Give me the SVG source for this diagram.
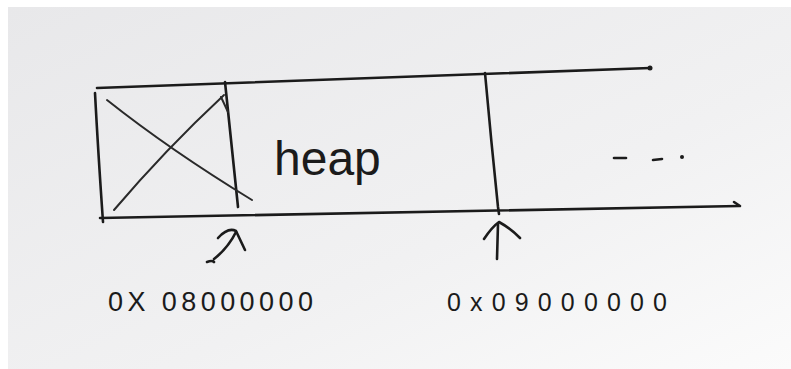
<svg xmlns="http://www.w3.org/2000/svg" width="791" height="369" viewBox="0 0 791 369">
<defs>
<linearGradient id="paper" x1="0" y1="0" x2="1" y2="1">
<stop offset="0" stop-color="#e8e8ea"/>
<stop offset="0.6" stop-color="#f1f1f2"/>
<stop offset="1" stop-color="#fbfbfb"/>
</linearGradient>
<style>
.ink{fill:none;stroke:#1b1b1b;stroke-width:2.6;stroke-linecap:round;stroke-linejoin:round}
.thin{fill:none;stroke:#2a2a2a;stroke-width:2;stroke-linecap:round;stroke-linejoin:round}
.hand{font-family:"Liberation Sans","DejaVu Sans",sans-serif;fill:#1b1b1b}
</style>
</defs>
<rect x="0" y="0" width="791" height="369" fill="#ffffff"/>
<rect x="8" y="7" width="783" height="362" fill="url(#paper)"/>

<g id="memory-strip">
<path class="ink" d="M97,88 Q380,79 650,68"/>
<circle cx="650" cy="68" r="2.5" fill="#1b1b1b"/>
<path class="ink" d="M100,218 Q420,211 739,206"/>
<path class="ink" d="M734,202 L740,206"/>
</g>

<g id="reserved-block">
<path class="ink" d="M95,93 Q98,150 103,222"/>
<path class="ink" d="M225,82 Q231,140 238,207"/>
<path class="thin" d="M107,100 Q170,150 252,200"/>
<path class="thin" d="M114,210 Q165,150 224,95"/>
<path class="thin" d="M221,97 L228,112"/>
</g>

<g id="heap-block">
<text class="hand" x="274" y="175" font-size="48">heap</text>
<path class="ink" d="M485,73 Q491,140 498,207 L499,214"/>
</g>

<g id="rest-block">
<path class="ink" d="M614,158 L626,158"/>
<path class="ink" d="M653,160 L662,159"/>
<circle cx="682" cy="157" r="2" fill="#1b1b1b"/>
</g>

<g id="connectors">
<path class="ink" d="M207,262 Q212,260 214,262 M214,259 Q228,248 236,232"/>
<path class="ink" d="M218,238 Q228,227 236,231 L245,250"/>
<path class="ink" d="M497,259 L498,224"/>
<path class="ink" d="M484,239 Q492,227 499,222 Q510,228 520,238"/>
</g>

<g id="addr-1">
<text class="hand" x="108" y="311" font-size="27" textLength="205" lengthAdjust="spacing">0X 08000000</text>
</g>
<g id="addr-2">
<text class="hand" x="447" y="311" font-size="25" textLength="220" lengthAdjust="spacing">0x09000000</text>
</g>
</svg>
